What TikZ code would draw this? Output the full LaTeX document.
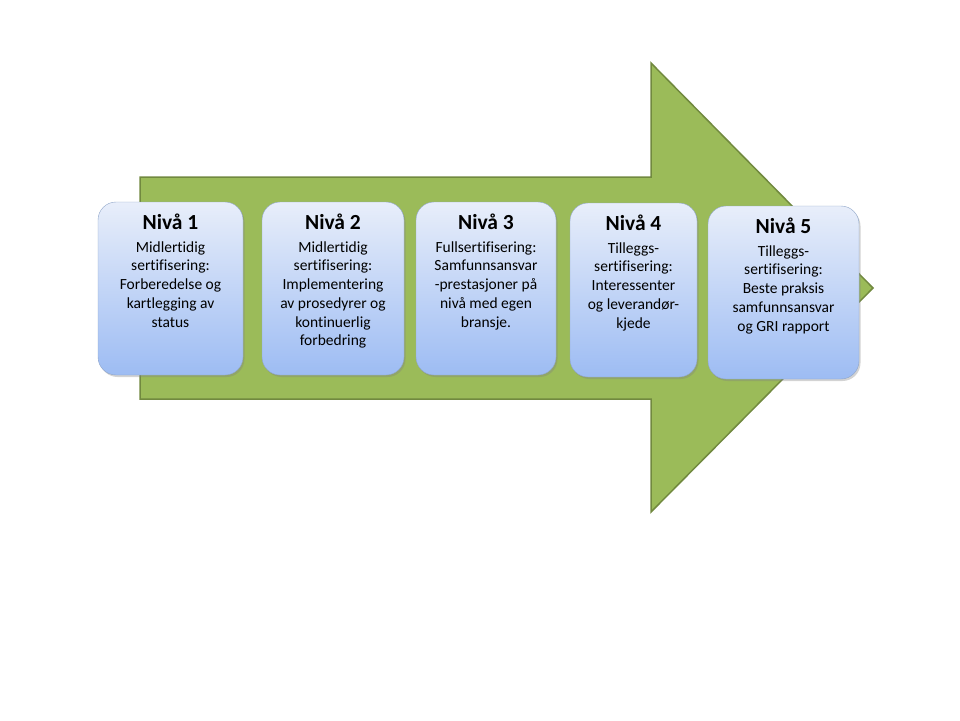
\documentclass[tikz,border=0pt]{standalone}
\usepackage{fontspec}
\setmainfont{Carlito}[Ligatures=NoCommon]
\usetikzlibrary{positioning,shadows}

\definecolor{arrowgreen}{HTML}{9BBB59}
\definecolor{arrowedge}{HTML}{71893F}
\definecolor{boxtop}{HTML}{E8EEFA}
\definecolor{boxbottom}{HTML}{9DBCF3}
\definecolor{boxedge}{HTML}{8FA5C8}

\newcommand{\nivatitle}[1]{{\fontsize{21.5}{24}\selectfont\bfseries #1}\\[4pt]}

\begin{document}
\begin{tikzpicture}[x=1pt,y=-1pt]
	\useasboundingbox (0,0) rectangle (960,720);
	% the big arrow
	\draw[fill=arrowgreen,draw=arrowedge,line width=1.5pt]
		(140,177) -- (651,177) -- (651,63) -- (873,288) -- (651,512) -- (651,399) -- (140,399) -- cycle;
	\begin{scope}[every node/.style={rounded corners=18pt,draw=boxedge,thin,
	              top color=boxtop,bottom color=boxbottom,
	              drop shadow={opacity=0.35,shadow xshift=1.5pt,shadow yshift=-2pt}}]
		\node[minimum width=145pt,minimum height=173pt] (b1) at (170.5,288.5) {};
		\node[minimum width=142pt,minimum height=173pt] (b2) at (333,288.5) {};
		\node[minimum width=140pt,minimum height=173pt] (b3) at (486,288.5) {};
		\node[minimum width=127pt,minimum height=174pt] (b4) at (633.5,290) {};
		\node[minimum width=151pt,minimum height=173pt] (b5) at (783.5,292.5) {};
	\end{scope}
	\begin{scope}[every node/.style={align=center,inner sep=0pt,
	              font=\fontsize{15.5}{18.7}\selectfont}]
		\node[below=12pt of b1.north] (t1) {\nivatitle{Nivå 1}Midlertidig\\sertifisering:\\Forberedelse og\\kartlegging av\\status};
		\node[below=12pt of b2.north] (t2) {\nivatitle{Nivå 2}Midlertidig\\sertifisering:\\Implementering\\av prosedyrer og\\kontinuerlig\\forbedring};
		\node[below=12pt of b3.north] (t3) {\nivatitle{Nivå 3}Fullsertifisering:\\Samfunnsansvar\\-prestasjoner på\\nivå med egen\\bransje.};
		\node[below=12pt of b4.north] (t4) {\nivatitle{Nivå 4}Tilleggs-\\sertifisering:\\Interessenter\\og leverandør-\\kjede};
		\node[below=12pt of b5.north] (t5) {\nivatitle{Nivå 5}Tilleggs-\\sertifisering:\\Beste praksis\\samfunnsansvar\\og GRI rapport};
	\end{scope}
\end{tikzpicture}
\end{document}
